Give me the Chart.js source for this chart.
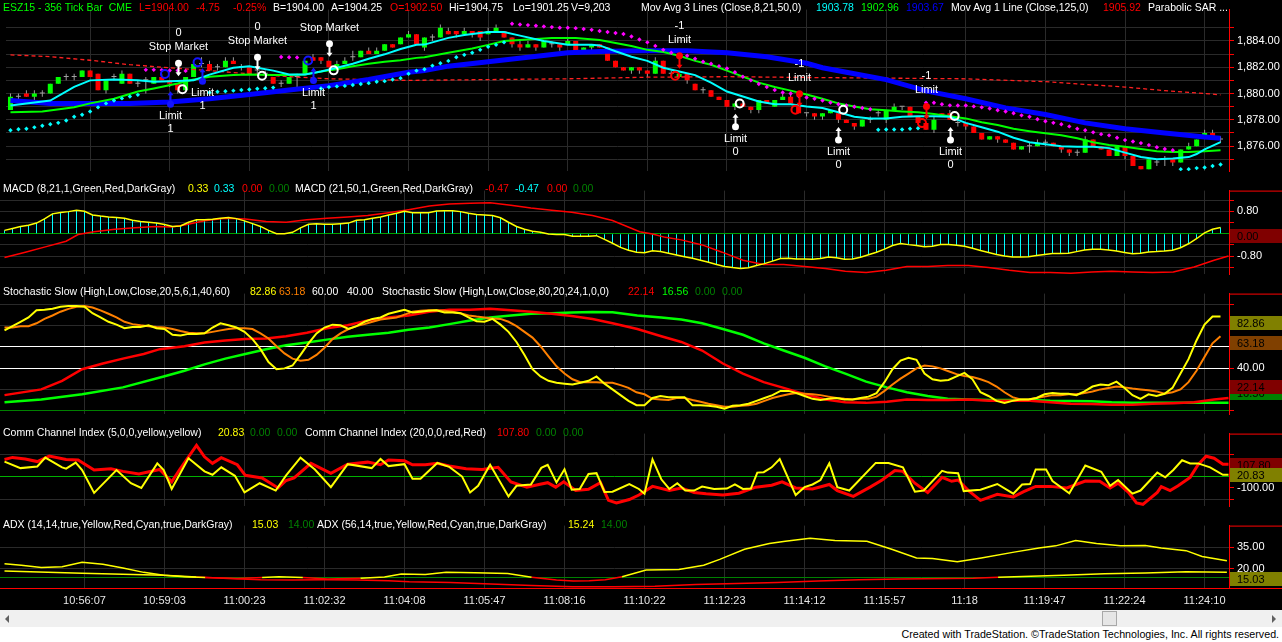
<!DOCTYPE html>
<html>
<head>
<meta charset="utf-8">
<title>ESZ15 - 356 Tick Bar</title>
<script src="https://cdn.jsdelivr.net/npm/chart.js@4.4.0/dist/chart.umd.min.js"></script>
<style>
  html, body { margin: 0; padding: 0; background: #000; width: 1282px; height: 642px; overflow: hidden;
    font-family: "Liberation Sans", Arial, sans-serif; }
  .pane { position: absolute; left: 0; width: 1282px; }
  .pane canvas { display: block; }
  .hdr { position: absolute; font-size: 10.5px; line-height: 13px; white-space: pre; z-index: 5; }
  #scroll { position: absolute; left: 0; top: 610px; width: 1282px; height: 17px; background: #f0f0f0; }
  #scroll .al { position: absolute; left: 5px; top: 5px; width: 0; height: 0;
    border-top: 4px solid transparent; border-bottom: 4px solid transparent; border-right: 4px solid #606060; }
  #scroll .ar { position: absolute; left: 1272px; top: 5px; width: 0; height: 0;
    border-top: 4px solid transparent; border-bottom: 4px solid transparent; border-left: 4px solid #606060; }
  #scroll .thumb { position: absolute; left: 1102px; top: 1px; width: 13px; height: 13px;
    background: #e6e6e6; border: 1px solid #a8a8a8; }
  #footer { position: absolute; left: 0; top: 627px; width: 1282px; height: 15px; background: #fff; }
  #footer span { position: absolute; right: 3px; top: 1px; font-size: 11.5px; line-height: 13px; color: #000;
    font-family: "Liberation Sans Narrow", "Liberation Sans", Arial, sans-serif; white-space: nowrap;
    transform: scaleX(0.93); transform-origin: right center; }
</style>
</head>
<body>
<div class="pane" style="top:0;height:181px"><canvas id="cPrice" width="1282" height="181" style="width:1282px;height:181px"></canvas></div>
<div class="pane" style="top:181px;height:103px"><canvas id="cMacd" width="1282" height="103" style="width:1282px;height:103px"></canvas></div>
<div class="pane" style="top:284px;height:140px"><canvas id="cStoch" width="1282" height="140" style="width:1282px;height:140px"></canvas></div>
<div class="pane" style="top:424px;height:92px"><canvas id="cCci" width="1282" height="92" style="width:1282px;height:92px"></canvas></div>
<div class="pane" style="top:516px;height:94px"><canvas id="cAdx" width="1282" height="94" style="width:1282px;height:94px"></canvas></div>
<div id="scroll"><div class="al"></div><div class="thumb"></div><div class="ar"></div></div>
<div id="footer"><span>Created with TradeStation. ©TradeStation Technologies, Inc. All rights reserved.</span></div>
<div id="headers"></div>

<script>
// ===================================================
// ESZ15 TICK CHART – PRICE + 4 INDICATOR PANES
// ===================================================

const GRID = '#2a2a2a';
const AXIS_RED = '#ff0000';
const FONT = "'Liberation Sans', Arial, sans-serif";
const UP = '#00ff00', DOWN = '#ff0000', DOJI = '#a0a0a0', WICK = '#9a9a9a';
const CYAN = '#00ffff', MAGENTA = '#ff00ff', BLUE = '#0000ff', YELLOW = '#ffff00';
const ORANGE = '#ff8000', WHITE = '#ffffff', MARK_BLUE = '#1414ff';

// ── time axis ──────────────────────────────────────
const timeTicks  = [10, 20, 30, 40, 50, 60, 70, 80, 90, 100, 110, 120, 130, 140, 150];
const timeLabels = ['10:56:07', '10:59:03', '11:00:23', '11:02:32', '11:04:08', '11:05:47', '11:08:16',
  '11:10:22', '11:12:23', '11:14:12', '11:15:57', '11:18', '11:19:47', '11:22:24', '11:24:10'];

// ── candles (bar 0..152) ───────────────────────────
const opens = [
  1878.75,1879.75,1880.0,1879.75,1880.0,1880.0,1880.75,1881.25,1881.25,1881.25,
  1881.75,1881.5,1880.25,1881.25,1880.75,1881.5,1880.75,1881.0,1880.75,1881.25,
  1881.0,1880.75,1880.25,1881.25,1882.25,1882.25,1882.0,1882.0,1882.5,1882.0,
  1882.0,1881.75,1881.5,1881.25,1880.75,1880.75,1881.25,1881.5,1882.75,1882.75,
  1882.5,1882.0,1882.25,1882.75,1882.75,1883.25,1883.0,1883.25,1883.75,1883.75,
  1884.25,1884.5,1883.5,1884.25,1884.25,1884.75,1884.75,1884.5,1884.75,1884.75,
  1884.5,1884.75,1884.75,1884.25,1883.75,1883.5,1883.75,1883.5,1883.75,1883.75,
  1883.75,1884.0,1883.25,1883.5,1883.75,1883.5,1882.5,1882.0,1881.75,1882.0,
  1881.75,1881.5,1882.5,1881.5,1881.25,1881.5,1880.75,1880.25,1880.25,1879.75,
  1879.5,1879.0,1879.25,1879.0,1878.75,1879.5,1879.0,1879.5,1879.75,1879.0,
  1878.5,1878.5,1878.25,1878.5,1878.5,1878.0,1877.75,1877.5,1878.0,1878.5,
  1878.0,1878.75,1879.0,1879.0,1878.25,1877.75,1877.25,1878.5,1878.5,1877.75,
  1877.75,1877.5,1877.0,1876.5,1876.75,1876.5,1876.25,1875.75,1876.0,1876.0,
  1876.25,1876.25,1876.0,1875.75,1875.5,1875.5,1876.5,1876.0,1875.75,1875.25,
  1876.0,1875.25,1874.5,1874.25,1874.75,1875.0,1875.0,1874.75,1875.75,1876.0,
  1876.75,1877.0,1876.5];
const highs = [
  1880.0,1880.0,1880.25,1880.25,1880.25,1880.75,1881.25,1881.5,1881.5,1881.75,
  1881.75,1881.5,1881.0,1881.5,1881.75,1881.5,1881.0,1881.25,1881.25,1881.5,
  1881.0,1880.75,1881.25,1882.25,1882.75,1882.5,1882.25,1882.75,1882.75,1882.25,
  1882.0,1882.0,1881.75,1881.25,1881.0,1881.25,1881.5,1882.5,1883.0,1882.75,
  1882.5,1882.5,1882.75,1883.25,1883.25,1883.5,1883.5,1883.75,1883.75,1884.25,
  1884.75,1884.5,1884.25,1884.5,1885.25,1885.0,1884.75,1885.0,1884.75,1884.75,
  1885.0,1885.25,1884.75,1884.25,1884.0,1884.0,1883.75,1884.0,1884.0,1883.75,
  1884.25,1884.0,1883.5,1883.75,1883.75,1883.5,1882.5,1882.0,1882.0,1882.0,
  1881.75,1882.75,1882.5,1881.75,1881.5,1881.5,1880.75,1880.5,1880.25,1879.75,
  1879.5,1879.25,1879.5,1879.0,1879.5,1879.5,1879.5,1880.0,1880.0,1879.0,
  1878.5,1878.5,1878.5,1878.75,1878.5,1878.0,1877.75,1878.0,1878.25,1878.75,
  1878.75,1879.25,1879.0,1879.0,1878.25,1877.75,1878.25,1878.5,1878.75,1878.0,
  1877.75,1877.5,1877.0,1876.75,1876.75,1876.5,1876.25,1876.0,1876.25,1876.5,
  1876.5,1876.25,1876.0,1875.75,1875.75,1876.75,1876.5,1876.0,1875.75,1876.0,
  1876.0,1875.25,1874.5,1875.0,1875.0,1875.25,1875.0,1875.75,1876.25,1876.5,
  1877.25,1877.25,1876.75];
const lows = [
  1878.75,1879.5,1879.75,1879.5,1879.75,1880.0,1880.75,1881.0,1881.0,1881.25,
  1881.25,1880.25,1880.0,1881.0,1880.75,1880.75,1880.5,1880.0,1880.75,1881.0,
  1880.5,1880.0,1880.25,1881.25,1882.0,1881.75,1881.75,1882.0,1882.25,1881.75,
  1881.5,1881.5,1881.25,1880.75,1880.5,1880.75,1880.5,1881.5,1882.5,1882.25,
  1882.0,1882.0,1882.25,1882.5,1882.75,1883.0,1883.0,1883.25,1883.5,1883.75,
  1884.25,1883.75,1883.25,1884.0,1884.25,1884.5,1884.25,1884.5,1884.25,1884.0,
  1884.5,1884.75,1884.25,1883.5,1883.25,1883.5,1883.25,1883.5,1883.5,1883.25,
  1883.75,1883.25,1883.0,1883.25,1883.5,1882.5,1882.0,1881.75,1881.5,1881.5,
  1881.25,1881.5,1881.5,1881.25,1881.25,1880.75,1880.25,1880.0,1879.75,1879.5,
  1879.0,1878.75,1879.0,1878.5,1878.5,1879.25,1879.0,1879.5,1879.25,1878.5,
  1878.25,1878.0,1878.0,1878.5,1877.75,1877.75,1877.25,1877.5,1877.75,1878.25,
  1877.75,1878.75,1878.75,1878.25,1877.75,1877.25,1877.0,1878.25,1878.0,1877.5,
  1877.25,1877.0,1876.5,1876.5,1876.25,1876.25,1875.75,1875.75,1875.5,1876.0,
  1876.0,1876.0,1875.5,1875.25,1875.25,1875.5,1876.0,1875.75,1875.25,1875.25,
  1875.0,1874.5,1874.25,1874.25,1874.5,1874.5,1874.5,1874.75,1875.75,1876.0,
  1876.75,1876.75,1876.25];
const closes = [
  1879.75,1879.75,1879.75,1880.0,1880.0,1880.75,1881.25,1881.25,1881.25,1881.75,
  1881.25,1880.25,1881.0,1881.25,1881.5,1880.75,1880.75,1881.0,1881.25,1881.0,
  1880.75,1880.25,1881.25,1882.25,1882.25,1881.75,1882.0,1882.5,1882.25,1882.0,
  1881.5,1881.75,1881.5,1880.75,1880.75,1881.25,1881.25,1882.5,1882.5,1882.5,
  1882.0,1882.25,1882.5,1882.75,1883.25,1883.0,1883.25,1883.75,1883.5,1884.25,
  1884.5,1883.75,1884.25,1884.25,1885.0,1884.5,1884.5,1884.75,1884.5,1884.25,
  1884.75,1885.0,1884.25,1883.75,1883.5,1883.75,1883.5,1884.0,1883.75,1883.5,
  1884.0,1883.25,1883.5,1883.75,1883.5,1882.5,1882.0,1881.75,1882.0,1881.75,
  1881.5,1882.5,1881.5,1881.5,1881.5,1881.0,1880.25,1880.25,1879.75,1879.5,
  1879.0,1879.25,1879.0,1878.75,1879.5,1879.25,1879.5,1879.75,1879.25,1878.5,
  1878.5,1878.25,1878.5,1878.75,1878.0,1877.75,1877.5,1878.0,1878.0,1878.5,
  1878.75,1879.0,1879.0,1878.25,1877.75,1877.25,1878.0,1878.25,1878.0,1877.75,
  1877.5,1877.0,1876.5,1876.75,1876.5,1876.25,1875.75,1876.0,1876.0,1876.25,
  1876.25,1876.0,1875.75,1875.5,1875.5,1876.5,1876.0,1875.75,1875.25,1876.0,
  1875.25,1874.5,1874.25,1875.0,1874.75,1875.0,1874.75,1875.75,1876.0,1876.5,
  1877.0,1876.75,1876.5];

// ── moving averages (bar, value) ───────────────────
const maFastX = [0,5,8,10,13,16,18,21,23,25,28,30,33,35,37,39,41,43,45,47,49,51,52,55,57,60,62,64,67,70,73,74,76,78,80,82,84,86,88,90,92,94,96,98,100,102,104,106,108,110,112,114,116,118,120,122,124,126,128,130,132,134,136,138,140,142,144,146,148,149,150,152];
const maFastY = [1879.09,1879.47,1880.5,1881.0,1881.06,1881.0,1880.9,1880.95,1881.0,1881.44,1881.96,1882.07,1881.74,1881.44,1881.44,1881.67,1881.96,1882.26,1882.64,1882.98,1883.39,1883.7,1883.72,1884.23,1884.45,1884.68,1884.68,1884.4,1884.0,1883.7,1883.7,1883.66,1883.21,1882.8,1882.48,1881.96,1881.67,1881.4,1880.83,1880.15,1879.77,1879.4,1879.18,1879.18,1879.02,1878.9,1878.57,1878.23,1878.11,1878.11,1878.23,1878.27,1878.27,1878.23,1877.77,1877.43,1877.1,1876.64,1876.3,1876.14,1876.0,1875.96,1875.96,1875.85,1875.51,1875.17,1875.01,1875.06,1875.17,1875.4,1875.75,1876.3];
const maMidX = [0,4,8,10,13,16,18,21,23,25,28,30,33,35,37,39,41,43,45,47,49,51,52,55,58,60,62,65,68,71,74,76,78,80,82,84,86,88,90,92,94,96,98,100,102,104,106,108,110,112,114,116,118,120,122,124,126,128,130,132,134,136,138,140,142,144,146,148,150,152];
const maMidY = [1878.57,1878.64,1878.95,1879.25,1879.6,1880.15,1880.38,1880.76,1881.06,1881.28,1881.4,1881.44,1881.4,1881.4,1881.44,1881.67,1881.85,1882.08,1882.26,1882.42,1882.53,1882.71,1882.76,1883.1,1883.43,1883.7,1884.0,1884.1,1884.23,1884.23,1884.07,1883.84,1883.62,1883.32,1883.16,1882.87,1882.48,1882.19,1881.74,1881.28,1880.83,1880.49,1880.22,1879.93,1879.6,1879.25,1879.02,1878.8,1878.73,1878.64,1878.57,1878.45,1878.27,1878.11,1877.82,1877.6,1877.32,1877.14,1876.98,1876.82,1876.6,1876.3,1876.08,1875.96,1875.78,1875.62,1875.55,1875.55,1875.62,1875.69];
const maSlowX = [0,5,10,15,20,25,30,35,40,45,50,52,55,60,65,70,75,80,85,90,95,100,102,105,110,115,120,125,130,135,140,145,150,152];
const maSlowY = [1879.47,1879.25,1879.25,1879.25,1879.36,1879.6,1879.93,1880.27,1880.6,1881.06,1881.62,1881.74,1882.08,1882.42,1882.76,1883.1,1883.21,1883.25,1883.25,1883.1,1882.8,1882.3,1881.96,1881.62,1881.06,1880.2,1879.6,1878.91,1878.4,1877.77,1877.32,1877.0,1876.69,1876.6];
const maLongX = [0,5,10,15,20,25,30,35,40,45,50,60,70,80,90,100,110,120,130,140,145,150,152];
const maLongY = [1882.94,1882.8,1882.53,1882.19,1881.96,1881.74,1881.5,1881.28,1881.12,1881.06,1881.0,1881.06,1881.12,1881.24,1881.28,1881.22,1881.17,1881.12,1880.9,1880.49,1880.22,1880.0,1879.9];

// ── parabolic SAR runs: [first bar, values] ────────
const sarUpRuns = [
  [0,   [1877.21,1877.28,1877.32,1877.43,1877.55,1877.66,1877.77,1877.95,1878.23,1878.39,1878.63,1878.95,1879.25,1879.47,1879.63,1879.77,1879.9]],
  [25,  [1880.08,1880.13,1880.17,1880.22,1880.27,1880.31,1880.36,1880.4,1880.45]],
  [39,  [1880.38,1880.49,1880.54,1880.58,1880.65,1880.72,1880.79,1880.9,1880.94,1881.06,1881.17,1881.5,1881.74,1881.85,1882.12,1882.3,1882.48,1882.76,1882.94,1883.1,1883.32,1883.55,1883.7,1883.89]],
  [109, [1877.25,1877.27,1877.27,1877.27,1877.32,1877.36]],
  [147, [1874.25,1874.25,1874.33,1874.38,1874.49,1874.6]]
];
const sarDnRuns = [
  [17,  [1881.8,1881.8,1881.78,1881.75,1881.75,1881.72]],
  [34,  [1882.78,1882.76,1882.74]],
  [63,  [1885.3,1885.25,1885.2,1885.15,1885.1,1885.05,1885.0,1885.0,1884.97,1884.9,1884.84,1884.75,1884.68,1884.6,1884.52,1884.34,1884.11,1883.89,1883.62,1883.32,1883.1,1882.94,1882.87,1882.64,1882.42,1882.26,1882.08,1881.9,1881.62,1881.28,1881.0,1880.72,1880.49,1880.27,1880.08,1880.0,1879.81,1879.7,1879.6,1879.47,1879.31,1879.18,1879.09,1879.0,1878.9,1878.8]],
  [115, [1879.3,1879.3,1879.18,1879.1,1879.09,1879.09,1879.02,1878.95,1878.86,1878.73,1878.63,1878.5,1878.34,1878.23,1878.05,1877.89,1877.77,1877.66,1877.5,1877.32,1877.21,1877.05,1876.91,1876.82,1876.64,1876.46,1876.35,1876.23,1876.08,1875.92,1875.78,1875.69]]
];

// ── strategy orders ────────────────────────────────
const markBars   = [21, 31, 40, 20, 24, 38, 84, 99, 115, 91, 104, 118];
const markPrices = [1882.30, 1882.76, 1883.78, 1879.18, 1880.94, 1880.99, 1882.87, 1879.99, 1879.02, 1877.48, 1876.46, 1876.46];
const markUp     = [false, false, false, true, true, true, false, false, false, true, true, true];
const markColors = [WHITE, WHITE, WHITE, MARK_BLUE, MARK_BLUE, MARK_BLUE, DOWN, DOWN, DOWN, WHITE, WHITE, WHITE];
const markLabels = ['Stop Market', 'Stop Market', 'Stop Market', 'Limit', 'Limit', 'Limit', 'Limit', 'Limit', 'Limit', 'Limit', 'Limit', 'Limit'];
const markQty    = ['0', '0', '', '1', '1', '1', '-1', '-1', '-1', '0', '0', '0'];
const fillBars   = [19.4, 23.5, 37.4, 21.6, 31.6, 40.6, 83.5, 98.6, 114.5, 91.6, 104.6, 118.6];
const fillPrices = [1881.49, 1882.37, 1882.51, 1880.33, 1881.35, 1881.76, 1881.35, 1878.77, 1877.75, 1879.24, 1878.77, 1878.29];
const fillColors = [MARK_BLUE, MARK_BLUE, MARK_BLUE, WHITE, WHITE, WHITE, DOWN, DOWN, DOWN, WHITE, WHITE, WHITE];

// ── MACD ───────────────────────────────────────────
const macdFast = [
  0.12,0.19,0.26,0.30,0.38,0.53,0.71,0.76,0.79,0.84,
  0.80,0.67,0.63,0.60,0.58,0.55,0.48,0.44,0.41,0.38,
  0.33,0.26,0.28,0.41,0.50,0.50,0.52,0.55,0.58,0.54,
  0.46,0.36,0.26,0.12,0.00,0.00,0.05,0.21,0.34,0.36,
  0.34,0.34,0.36,0.38,0.48,0.50,0.55,0.60,0.67,0.73,
  0.80,0.75,0.75,0.75,0.81,0.82,0.82,0.79,0.73,0.69,
  0.67,0.65,0.57,0.41,0.26,0.16,0.09,0.05,-0.01,-0.03,
  -0.03,-0.09,-0.09,-0.09,-0.07,-0.20,-0.34,-0.49,-0.59,-0.66,
  -0.68,-0.61,-0.64,-0.70,-0.76,-0.82,-0.88,-0.95,-1.02,-1.10,
  -1.17,-1.21,-1.24,-1.22,-1.14,-1.07,-0.98,-0.89,-0.88,-0.90,
  -0.90,-0.91,-0.89,-0.83,-0.86,-0.91,-0.90,-0.84,-0.75,-0.66,
  -0.55,-0.42,-0.35,-0.39,-0.42,-0.47,-0.45,-0.39,-0.39,-0.41,
  -0.45,-0.52,-0.60,-0.67,-0.74,-0.80,-0.83,-0.83,-0.82,-0.78,
  -0.74,-0.71,-0.71,-0.70,-0.64,-0.58,-0.56,-0.56,-0.58,-0.62,
  -0.67,-0.72,-0.70,-0.65,-0.64,-0.62,-0.59,-0.50,-0.36,-0.18,
  0.03,0.16,0.22];
const macdSlowX = [0,2.6,5.1,7.7,9.2,11.2,13.8,16.3,18.9,20.9,22.5,25,27.6,30.1,32.7,35.2,37.8,40.3,42.9,45.4,48,50.5,53.1,55.6,58.2,60.7,63.3,65.8,68.4,70.9,73.5,76,79.4,81,82.6,84.6,87.2,89.7,92.3,94.9,97.4,100,102.6,105.1,107.7,110.2,112.8,115.4,117.9,120.5,123,125.6,128.2,130.7,133.3,135.9,138.4,141,143.5,146.1,148.7,151.2,153];
const macdSlowY = [-0.85,-0.66,-0.47,-0.27,-0.03,0.07,0.16,0.21,0.26,0.24,0.31,0.46,0.55,0.53,0.44,0.41,0.50,0.55,0.60,0.65,0.75,0.86,0.99,1.06,1.09,1.11,1.02,0.92,0.84,0.77,0.65,0.47,0.07,-0.01,-0.13,-0.22,-0.40,-0.66,-0.95,-1.10,-1.10,-1.17,-1.24,-1.34,-1.39,-1.31,-1.17,-1.17,-1.14,-1.14,-1.21,-1.31,-1.39,-1.39,-1.41,-1.37,-1.34,-1.37,-1.39,-1.37,-1.19,-0.95,-0.80];

// ── Stochastic Slow ────────────────────────────────
const stochK = [
  75.5,79.5,83.6,87.7,94.4,95.0,95.8,97.7,98.5,98.5,
  97.7,91.7,87.7,83.6,80.9,77.6,78.7,78.7,80.3,77.6,
  76.8,71.4,70.6,72.2,72.2,72.7,78.2,82.2,80.3,78.2,
  74.1,67.3,57.8,45.6,38.9,39.7,42.4,52.4,63.3,72.7,
  78.2,80.9,80.3,76.8,79.5,83.6,86.3,87.7,91.2,93.1,
  95.0,92.3,93.1,93.9,94.4,92.3,92.3,91.7,87.7,84.1,
  83.6,86.3,80.9,74.1,64.6,52.4,38.9,32.1,28.0,26.1,
  25.3,24.5,26.1,28.0,32.1,25.3,19.9,14.5,9.1,5.0,
  5.0,11.8,13.7,12.6,12.6,12.6,5.0,5.0,4.5,3.6,
  1.7,4.5,5.0,6.4,9.1,11.8,14.5,18.5,18.5,16.4,
  13.7,11.0,9.9,11.0,11.8,10.4,10.4,11.8,13.1,16.4,
  26.7,38.9,47.0,49.7,47.8,34.8,29.4,28.0,28.8,32.1,
  35.4,29.4,17.2,13.7,9.1,7.2,9.1,10.4,10.4,11.8,
  15.3,16.4,15.8,15.8,14.5,18.0,22.6,24.5,23.9,27.2,
  21.3,14.5,11.0,15.3,13.7,15.8,21.3,34.8,48.4,66.0,
  80.9,88.5,88.5];
const stochD = [
  78.2,78.2,79.5,79.5,82.2,86.3,89.5,93.1,95.8,97.7,
  98.5,97.1,94.4,91.2,87.7,83.6,81.4,80.3,79.5,78.7,
  78.2,76.8,74.9,73.3,72.7,72.7,74.1,75.5,76.8,77.4,
  77.4,76.8,72.7,67.9,60.6,53.8,48.9,47.0,47.8,52.4,
  59.2,67.3,72.7,76.8,79.5,81.4,83.6,85.8,86.8,87.7,
  90.4,93.1,93.9,94.4,94.4,93.9,93.1,91.7,89.5,88.5,
  87.7,86.8,86.3,83.6,79.5,74.1,68.7,60.6,51.1,41.6,
  34.8,29.4,26.7,26.7,26.7,26.1,26.1,23.9,21.3,17.2,
  15.3,11.0,10.4,9.9,11.8,11.8,9.9,8.3,6.4,5.0,
  3.6,3.6,4.5,5.0,6.4,9.1,11.8,13.7,15.3,16.4,
  15.8,15.3,14.5,13.1,11.8,11.0,10.4,11.0,11.0,13.1,
  18.5,24.5,30.0,34.8,39.7,42.4,41.6,39.7,37.0,34.3,
  32.6,31.6,29.4,26.7,22.6,17.2,12.6,10.4,10.4,11.8,
  13.1,14.5,14.5,15.3,15.3,16.4,18.0,19.9,21.3,22.6,
  21.8,20.7,19.9,19.1,18.0,15.8,17.2,19.9,26.7,37.5,
  50.5,63.3,70.0];
const stochLongKX = [0,4.6,7.2,9.7,12.3,14.8,17.4,19.4,22.5,25,27.6,30.1,32.7,35.2,37.8,40.3,42.9,45.4,48,50.5,53.1,55.6,58.2,60.7,63.3,65.8,68.4,70.9,73.5,76,79.1,82.1,84.6,87.2,89.8,92.3,94.9,97.4,100,102.6,105.1,107.7,110.3,112.8,115.4,117.9,120.5,123.1,125.6,128.2,130.7,133.3,135.9,138.4,141,143.5,146.1,148.7,151.2,153];
const stochLongKY = [14.5,19.9,28,38.9,44.3,48.9,53.2,57.8,60.6,64.1,66,67.3,67.9,70,73.3,77.6,80.3,84.9,87.7,89.6,93.1,95,95,95.8,94.4,93.1,91.2,89,86.3,82.2,76.8,70,64.6,56.5,44.3,34.8,26.7,21.3,15.3,10.4,7.7,7.2,8.3,10.4,9.9,9.9,10.4,9.1,9.1,9.1,7.7,6.4,6.1,5.5,5.5,6.4,6.9,7.7,10.4,11.8];
const stochLongDX = [0,4.6,9.7,14.8,19.9,22.5,25,27.6,30.1,32.7,35.2,37.8,40.3,42.9,45.4,48,50.5,53.1,55.6,58.2,60.7,63.3,65.8,68.4,70.9,73.5,76,79.1,82.1,84.6,87.2,89.8,92.3,94.9,97.4,100,102.6,105.1,107.7,110.3,112.8,115.4,117.9,120.5,123.1,128.2,130.7,135.9,138.4,141,153];
const stochLongDY = [7.7,10.4,15.3,21.8,32.1,37.5,43.5,48.9,53.2,57.8,61.4,64.1,66.8,69.5,71.4,73.3,76,78.2,81.4,84.9,87.7,89.6,91.2,91.7,92.3,92.8,92.5,89.6,87.7,85.8,82.2,76.8,71.4,63.3,56.5,49.7,41.6,34.8,27.2,21.8,17.2,13.7,11,10.4,9.9,9.9,9.1,8.8,7.7,7.2,7.2];

// ── Commodity Channel Index ────────────────────────
const cciFastX = [0,2,4.1,5.1,7.2,7.7,8.9,9.7,11.2,14,15.8,17.1,19.1,19.9,20.9,23,25,26,27.1,28.8,30,31.9,33.9,35.2,37,38.8,40.8,42.9,45.9,47,48,50,51,52,54.1,55.6,57.2,58.2,59.2,60.7,63,64,65.8,67.1,67.9,69,70,70.9,71.9,73,74,75,76,78.1,79.3,80,81,82.1,83.1,84.1,85.1,86.2,87.2,88.7,90.3,91.3,92.3,93.3,94.1,94.9,95.9,96.9,98.9,100,101,102,103.1,104.1,105.6,108.9,110.5,112.3,113.8,114.9,117.2,117.9,119.2,119.9,122,124.1,126.1,127.2,128.2,128.9,130.2,131,133.1,135.1,137.1,138.2,139.2,141,142,144.1,145.1,146.1,147.2,148.2,149.2,150.7,152.3,153];
const cciFastY = [133,75,89,168,82,70,124,58,-145,58,-59,-101,117,58,-110,163,46,16,82,7,-141,-59,-124,11,168,63,-94,110,75,156,93,110,-19,-19,121,86,0,-141,-82,105,-176,-82,-70,77,105,-52,65,-117,-110,23,30,-136,-134,-66,-110,-152,152,-24,-110,-59,-124,-124,-89,-110,-106,-70,-110,-106,35,39,82,156,-164,-94,-70,-31,117,-94,-124,121,121,82,-134,-124,51,35,30,-129,-117,-66,-152,-70,-66,63,63,-40,-148,98,42,-82,-31,-152,-124,35,-7,58,145,117,117,82,16,16];
const cciSlowX = [0,1,2.6,4.1,5.6,7.7,9.2,11.2,13.3,14.8,16.8,19.4,20.9,21.9,24,25,26,27.1,29.1,30.1,32.2,34.2,35.2,36.2,38.3,40.8,42.9,45.4,47,48,50,51,52.6,54.1,55.6,57.7,59.7,61.7,63.3,65.3,66.8,67.9,68.9,69.9,71.4,73,74.5,75.5,76.5,78.1,79.3,81,83.1,84.6,86.2,87.7,89.8,91.8,93.9,95.9,97.2,98.9,101,103.1,104.1,106.1,108.2,109.7,111.3,112.3,113.8,115.4,117.2,118.4,119.2,120.5,122,124.1,126.1,127.4,128.9,130.7,132.8,135.1,136.9,138.2,139.2,140.5,141.5,142.3,144.1,144.6,145.7,146.7,148.2,149.2,150.2,151.2,152.3,153];
const cciSlowY = [152,170,156,133,182,152,147,58,70,46,23,63,-47,63,276,175,117,168,105,11,-12,-101,-35,-12,117,28,110,128,105,147,140,105,105,117,93,70,63,82,-47,-94,-70,-54,-94,-47,-124,-113,-54,-211,-234,-204,-164,-87,-124,-101,-141,-152,-164,-148,-94,-77,-47,-101,-110,-70,-124,-176,-94,-31,54,46,-59,-141,-7,-42,-31,-124,-211,-157,-180,-134,-87,-87,-101,-40,-42,-101,-59,-141,-234,-246,-141,-89,-124,-82,-7,105,180,163,110,110];

// ── ADX ────────────────────────────────────────────
const adxFastX = [0,2.1,4.6,7.2,9.7,12.3,14.8,17.4,19.9,22.5,25.1,29.1,32.2,34.3,37.3,40.4,44.5,47.5,49.6,52.6,55.2,58.8,62.9,65.9,69,71.1,73.1,75.1,77.2,80.2,84.3,87.4,89.4,92.5,95.6,97.6,100.7,103.8,107.8,110.9,114,116,119.1,122.1,126.2,129.3,131.4,133.9,136.5,139.5,142.6,144.6,147.7,149.7,152.8];
const adxFastY = [23.5,22.5,20.9,21.5,24.5,23.1,20.6,17.6,15.6,14.6,14.0,13.4,14.0,14.6,14.0,13.0,13.6,14.4,16.4,16.2,17.6,17.4,16.8,14.2,12.4,11.6,11.8,12.6,14.6,19.2,19.6,22.5,26.5,33.5,37.4,39,41,39.4,39,33.5,27.5,27.1,24.9,27.5,31.5,34.4,35.8,39.4,37.4,35.8,36,34.4,32.5,28.5,25.5];
const adxSlowX = [0,9.7,19.9,24,28,32,36,40,44,48,50.6,55.7,60.8,65.9,71,76.2,81.3,86.4,91.5,96.6,101.7,106.8,111.9,121.1,124.2,128.3,132.4,137.5,142.6,147.7,152.8];
const adxSlowY = [18.6,17.0,15.6,14.4,13.4,12.6,12.4,12.6,12.4,11.9,11.2,10.6,9.6,8.6,7.7,7.7,8.1,9.3,10.0,10.6,11.6,12.6,13.0,13.6,14.2,15.0,15.6,16.6,17.2,18.0,17.6];
const ADX_TREND = 14;

// ── last-value boxes on the right axis ─────────────
const macdBoxValues  = [0.00];
const macdBoxColors  = ['#800000'];
const stochBoxValues = [82.86, 63.18, 16.56, 22.14];
const stochBoxColors = ['#808000', '#804000', '#008000', '#800000'];
const cciBoxValues   = [107.80, 20.83];
const cciBoxColors   = ['#800000', '#808000'];
const adxBoxValues   = [15.03];
const adxBoxColors   = ['#808000'];

// ── pane title texts [x, y, text, colour] ──────────
const headers = [
  [3, 8, 'ESZ15 - 356 Tick Bar  CME', '#00ff00'], [139, 8, 'L=1904.00', '#ff0000'], [196, 8, '-4.75', '#ff0000'],
  [233, 8, '-0.25%', '#ff0000'], [273, 8, 'B=1904.00', WHITE], [331, 8, 'A=1904.25', WHITE],
  [390, 8, 'O=1902.50', '#ff0000'], [449, 8, 'Hi=1904.75', WHITE], [513, 8, 'Lo=1901.25', WHITE],
  [571, 8, 'V=9,203', WHITE], [641, 8, 'Mov Avg 3 Lines (Close,8,21,50,0)', WHITE], [816, 8, '1903.78', CYAN],
  [861, 8, '1902.96', '#00ff00'], [906, 8, '1903.67', BLUE], [951, 8, 'Mov Avg 1 Line (Close,125,0)', WHITE],
  [1103, 8, '1905.92', '#ff0000'], [1148, 8, 'Parabolic SAR ...', WHITE],
  [3, 189, 'MACD (8,21,1,Green,Red,DarkGray)', WHITE], [188, 189, '0.33', YELLOW], [214, 189, '0.33', CYAN],
  [242, 189, '0.00', '#ff0000'], [269, 189, '0.00', '#008000'], [295, 189, 'MACD (21,50,1,Green,Red,DarkGray)', WHITE],
  [485, 189, '-0.47', '#ff0000'], [515, 189, '-0.47', CYAN], [547, 189, '0.00', '#ff0000'], [573, 189, '0.00', '#008000'],
  [3, 292, 'Stochastic Slow (High,Low,Close,20,5,6,1,40,60)', WHITE], [250, 292, '82.86', YELLOW],
  [279, 292, '63.18', ORANGE], [312, 292, '60.00', WHITE], [347, 292, '40.00', WHITE],
  [382, 292, 'Stochastic Slow (High,Low,Close,80,20,24,1,0,0)', WHITE], [628, 292, '22.14', '#ff0000'],
  [662, 292, '16.56', '#00ff00'], [695, 292, '0.00', '#008000'], [722, 292, '0.00', '#008000'],
  [3, 433, 'Comm Channel Index (5,0,0,yellow,yellow)', WHITE], [218, 433, '20.83', YELLOW],
  [250, 433, '0.00', '#008000'], [277, 433, '0.00', '#008000'], [305, 433, 'Comm Channel Index (20,0,0,red,Red)', WHITE],
  [497, 433, '107.80', '#ff0000'], [536, 433, '0.00', '#008000'], [563, 433, '0.00', '#008000'],
  [3, 525, 'ADX (14,14,true,Yellow,Red,Cyan,true,DarkGray)', WHITE], [252, 525, '15.03', YELLOW],
  [288, 525, '14.00', '#008000'], [317, 525, 'ADX (56,14,true,Yellow,Red,Cyan,true,DarkGray)', WHITE],
  [568, 525, '15.24', YELLOW], [601, 525, '14.00', '#008000']
];

// ===================================================
// helpers
// ===================================================
const X_MIN = -0.5625, X_MAX = 153.0625;   // bar k sits at 4.5 + 8k px
const bars = opens.map((_, i) => i);
const pts = (xs, ys) => xs.map((x, i) => ({ x, y: ys[i] }));
const perBar = arr => arr.map((y, x) => ({ x, y }));
const runPoints = runs => runs.flatMap(([start, vals]) => vals.map((y, i) => ({ x: start + i, y })));

function xScale(withLabels) {
  return {
    type: 'linear', min: X_MIN, max: X_MAX, offset: false, bounds: 'data',
    afterBuildTicks: s => { s.ticks = timeTicks.map(v => ({ value: v })); },
    afterFit: s => { s.height = withLabels ? 22 : 0; },
    grid: { color: GRID, drawTicks: false, offset: false },
    border: { display: false },
    ticks: {
      display: withLabels, color: '#e6e6e6', padding: 6, maxRotation: 0, autoSkip: false,
      font: { size: 11 },
      callback: v => timeLabels[timeTicks.indexOf(v)] || ''
    }
  };
}

function yScale(min, max, tickVals, labelFn, gridFn) {
  return {
    position: 'right', min, max, bounds: 'data',
    afterBuildTicks: s => { s.ticks = tickVals.map(v => ({ value: v })); },
    afterFit: s => { s.width = 53; },
    border: { color: AXIS_RED, width: 1 },
    grid: { color: gridFn || GRID, tickColor: AXIS_RED, tickLength: 5 },
    ticks: { color: WHITE, padding: 3, autoSkip: false, font: { size: 11 }, callback: labelFn }
  };
}

function baseOptions(y, withTime) {
  return {
    responsive: false, animation: false, devicePixelRatio: 1,
    layout: { padding: 0 },
    plugins: { legend: { display: false }, tooltip: { enabled: false } },
    elements: { point: { radius: 0 }, line: { tension: 0 } },
    scales: { x: xScale(withTime), y }
  };
}

// red separator on the axis strip + optional bottom border
function paneFrame(top, bottom) {
  return {
    id: 'paneFrame',
    afterDraw(chart) {
      const { ctx, chartArea } = chart;
      ctx.save();
      ctx.strokeStyle = AXIS_RED;
      ctx.lineWidth = 1;
      ctx.beginPath();
      if (top) { ctx.moveTo(chartArea.right, chartArea.top + 0.5); ctx.lineTo(chart.width, chartArea.top + 0.5); }
      if (bottom) { ctx.moveTo(0, chartArea.bottom + 0.5); ctx.lineTo(chart.width, chartArea.bottom + 0.5); }
      ctx.stroke();
      ctx.restore();
    }
  };
}

// coloured last-value boxes (shift = px nudge so boxes clear the tick labels)
function axisBoxes(values, colors, shift) {
  return {
    id: 'axisBoxes',
    afterDraw(chart) {
      const { ctx, chartArea, scales: { y } } = chart;
      ctx.save();
      ctx.font = `11px ${FONT}`;
      ctx.textAlign = 'left';
      ctx.textBaseline = 'middle';
      values.forEach((v, i) => {
        const py = Math.round(y.getPixelForValue(v)) + (shift || 0);
        ctx.fillStyle = colors[i];
        ctx.fillRect(chartArea.right + 1, py - 7, chart.width - chartArea.right - 1, 14);
        ctx.fillStyle = '#000';
        ctx.fillText(v.toFixed(2), chartArea.right + 8, py + 0.5);
      });
      ctx.restore();
    }
  };
}

// order arrows with their labels
const orderMarks = {
  id: 'orderMarks',
  afterDatasetsDraw(chart) {
    const { ctx, scales: { x, y } } = chart;
    ctx.save();
    ctx.font = `11px ${FONT}`;
    ctx.textAlign = 'center';
    ctx.textBaseline = 'middle';
    markBars.forEach((k, i) => {
      const px = Math.round(x.getPixelForValue(k)) + 0.5;
      const py = y.getPixelForValue(markPrices[i]);
      const up = markUp[i];
      const dir = up ? -1 : 1;
      const tip = py + dir * 13;
      ctx.strokeStyle = markColors[i];
      ctx.fillStyle = markColors[i];
      ctx.lineWidth = 2;
      ctx.beginPath(); ctx.moveTo(px, py); ctx.lineTo(px, tip - dir * 3); ctx.stroke();
      ctx.beginPath();
      ctx.moveTo(px - 3, tip - dir * 4); ctx.lineTo(px + 3, tip - dir * 4); ctx.lineTo(px, tip);
      ctx.closePath(); ctx.fill();
      ctx.beginPath(); ctx.arc(px, py, 3.5, 0, Math.PI * 2); ctx.fill();
      ctx.fillStyle = WHITE;
      if (up) {
        ctx.fillText(markLabels[i], px, py + 12);
        ctx.fillText(markQty[i], px, py + 25);
      } else {
        ctx.fillText(markLabels[i], px, py - 16);
        ctx.fillText(markQty[i], px, py - 30);
      }
    });
    ctx.restore();
  }
};

const lineDs = (data, color, width, order, extra) => Object.assign({
  type: 'line', data, borderColor: color, borderWidth: width, pointRadius: 0, order, fill: false
}, extra || {});

Chart.defaults.font.family = FONT;
Chart.defaults.font.size = 11;
Chart.defaults.color = WHITE;

// ── 1. Price pane ──────────────────────────────────
function initPriceChart() {
  const priceTicks = [1875, 1876, 1877, 1878, 1879, 1880, 1881, 1882, 1883, 1884, 1885];
  const y = yScale(1874.08, 1886.38, priceTicks,
    v => (v % 2 === 0 ? v.toLocaleString('en-US', { minimumFractionDigits: 2, maximumFractionDigits: 2 }) : ''));
  return new Chart(document.getElementById('cPrice'), {
    type: 'bar',
    data: {
      datasets: [
        { type: 'bar', data: bars.map(i => ({ x: i, y: [lows[i], highs[i]] })), backgroundColor: WICK,
          barThickness: 1, grouped: false, inflateAmount: 0, order: 9 },
        { type: 'bar', data: bars.map(i => ({ x: i, y: [opens[i], closes[i]] })),
          backgroundColor: bars.map(i => closes[i] > opens[i] ? UP : closes[i] < opens[i] ? DOWN : DOJI),
          barThickness: 5, minBarLength: 1, grouped: false, inflateAmount: 0, order: 8 },
        lineDs(pts(maLongX, maLongY), '#ff2020', 1.3, 7, { borderDash: [4, 3] }),
        lineDs(pts(maSlowX, maSlowY), BLUE, 5, 6),
        lineDs(pts(maMidX, maMidY), '#00ff00', 2, 5),
        lineDs(pts(maFastX, maFastY), CYAN, 2, 4),
        lineDs(runPoints(sarUpRuns), CYAN, 0, 3, { showLine: false, pointRadius: 2.2, pointStyle: 'rectRot',
          pointBackgroundColor: CYAN, pointBorderWidth: 0 }),
        lineDs(runPoints(sarDnRuns), MAGENTA, 0, 3, { showLine: false, pointRadius: 2.2, pointStyle: 'rectRot',
          pointBackgroundColor: MAGENTA, pointBorderWidth: 0 }),
        lineDs(pts(fillBars, fillPrices), WHITE, 0, 2, { showLine: false, pointRadius: 4, pointStyle: 'circle',
          pointBackgroundColor: 'rgba(0,0,0,0)', pointBorderColor: fillColors, pointBorderWidth: 2 })
      ]
    },
    options: baseOptions(y, false),
    plugins: [orderMarks]
  });
}

// ── 2. MACD pane ───────────────────────────────────
function initMacdChart() {
  const y = yScale(-1.455, 1.542, [-1.2, -0.8, -0.4, 0, 0.4, 0.8, 1.2],
    v => (v === 0.8 ? '0.80' : v === -0.8 ? '-0.80' : ''),
    c => (c.tick && c.tick.value === 0 ? '#00a000' : GRID));
  return new Chart(document.getElementById('cMacd'), {
    type: 'bar',
    data: {
      datasets: [
        { type: 'bar', data: perBar(macdFast), backgroundColor: CYAN, barThickness: 1, grouped: false,
          inflateAmount: 0, order: 5 },
        lineDs(pts(macdSlowX, macdSlowY), '#ff0000', 1.5, 4),
        lineDs(perBar(macdFast), YELLOW, 1.5, 3)
      ]
    },
    options: baseOptions(y, false),
    plugins: [paneFrame(true, false), axisBoxes(macdBoxValues, macdBoxColors, 2)]
  });
}

// ── 3. Stochastic pane ─────────────────────────────
function initStochChart() {
  const y = yScale(-3.66, 110.16, [0, 20, 40, 60, 80, 100],
    v => (v === 40 ? '40.00' : ''),
    c => {
      const v = c.tick && c.tick.value;
      return v === 40 || v === 60 ? WHITE : v === 0 ? '#008000' : GRID;
    });
  return new Chart(document.getElementById('cStoch'), {
    type: 'line',
    data: {
      datasets: [
        lineDs(pts(stochLongDX, stochLongDY), '#00ff00', 2.5, 6),
        lineDs(pts(stochLongKX, stochLongKY), '#ff0000', 2.5, 5),
        lineDs(perBar(stochD), ORANGE, 2, 4),
        lineDs(perBar(stochK), YELLOW, 2, 3)
      ]
    },
    options: baseOptions(y, false),
    plugins: [paneFrame(true, false), axisBoxes(stochBoxValues, stochBoxColors, 0)]
  });
}

// ── 4. CCI pane ────────────────────────────────────
function initCciChart() {
  const y = yScale(-264.6, 381.1, [-200, -100, 0, 200],
    v => (v === -100 ? '-100.00' : ''),
    c => {
      const v = c.tick && c.tick.value;
      return v === 0 ? '#00b000' : v === -100 ? 'rgba(0,0,0,0)' : GRID;
    });
  return new Chart(document.getElementById('cCci'), {
    type: 'line',
    data: {
      datasets: [
        lineDs(pts(cciSlowX, cciSlowY), '#ff0000', 3, 5),
        lineDs(pts(cciFastX, cciFastY), YELLOW, 2, 4)
      ]
    },
    options: baseOptions(y, false),
    plugins: [paneFrame(true, false), axisBoxes(cciBoxValues, cciBoxColors, 1)]
  });
}

// ── 5. ADX pane + time axis ────────────────────────
function initAdxChart() {
  const y = yScale(6.86, 49.71, [ADX_TREND, 20, 35],
    v => (v === 20 ? '20.00' : v === 35 ? '35.00' : ''),
    c => (c.tick && c.tick.value === ADX_TREND ? '#008000' : GRID));
  const trendColor = c => ((c.p0.parsed.y + c.p1.parsed.y) / 2 >= ADX_TREND ? YELLOW : '#ff0000');
  return new Chart(document.getElementById('cAdx'), {
    type: 'line',
    data: {
      datasets: [
        lineDs(pts(adxSlowX, adxSlowY), YELLOW, 1.5, 5, { segment: { borderColor: trendColor } }),
        lineDs(pts(adxFastX, adxFastY), YELLOW, 1.5, 4, { segment: { borderColor: trendColor } })
      ]
    },
    options: baseOptions(y, true),
    plugins: [paneFrame(true, true), axisBoxes(adxBoxValues, adxBoxColors, 3)]
  });
}

function initHeaders() {
  const host = document.getElementById('headers');
  headers.forEach(([x, yc, text, color]) => {
    const s = document.createElement('span');
    s.className = 'hdr';
    s.style.left = x + 'px';
    s.style.top = (yc - 7) + 'px';
    s.style.color = color;
    s.textContent = text;
    host.appendChild(s);
  });
}

function initCharts() {
  window._charts = {
    price: initPriceChart(),
    macd:  initMacdChart(),
    stoch: initStochChart(),
    cci:   initCciChart(),
    adx:   initAdxChart()
  };
  initHeaders();
}

initCharts();
</script>
</body>
</html>
